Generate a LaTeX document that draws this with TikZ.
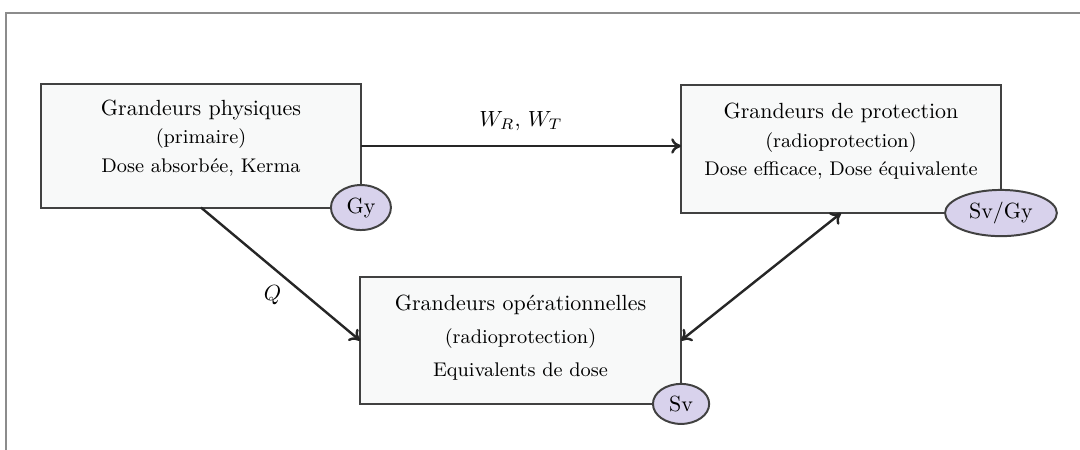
\documentclass[tikz,border=0pt]{standalone}
\usetikzlibrary{shapes.geometric,arrows.meta}
\definecolor{unitfill}{RGB}{216,210,236}
\definecolor{boxfill}{RGB}{248,249,249}
\definecolor{lineclr}{RGB}{65,65,65}
\begin{document}
\begin{tikzpicture}[x=0.016cm,y=-0.016cm,
  box/.style={draw=lineclr,line width=0.9pt,fill=boxfill,rectangle,inner sep=0pt,outer sep=0pt},
  txt/.style={align=center,inner sep=0pt,font=\normalsize},
  unit/.style={draw=lineclr,line width=0.9pt,fill=unitfill,ellipse,inner sep=0pt,font=\normalsize},
  arr/.style={draw=black!85,line width=1.1pt,-{To[length=4.5pt,width=7pt]}},
  darr/.style={draw=black!85,line width=1.1pt,{To[length=4.5pt,width=7pt]}-{To[length=4.5pt,width=7pt]}},
  frame/.style={draw=black!45,line width=0.7pt}]
\useasboundingbox (0,0) rectangle (1080,450);
% frame
\coordinate (f1) at (1080,13);
\coordinate (f2) at (6,13);
\coordinate (f3) at (6,450);
\draw[frame] (f1) -- (f2) -- (f3);
% boxes
\node[box,minimum width=5.12cm,minimum height=1.97cm] (A) at (201,146) {};
\node[box,minimum width=5.12cm,minimum height=2.05cm] (B) at (841,149) {};
\node[box,minimum width=5.14cm,minimum height=2.03cm] (C) at (520.5,340.5) {};
% texts
\node[txt] (At) at ([yshift=0.13cm]A.center) {Grandeurs physiques\\[1pt]{\small (primaire)}\\[1pt]{\small Dose absorbée, Kerma}};
\node[txt] (Bt) at ([yshift=0.12cm]B.center) {Grandeurs de protection\\[1pt]{\small (radioprotection)}\\[1pt]{\small Dose efficace, Dose équivalente}};
\node[txt] (Ct) at ([yshift=0.05cm]C.center) {Grandeurs opérationnelles\\[3pt]{\small (radioprotection)}\\[3pt]{\small Equivalents de dose}};
% units
\node[unit,minimum width=0.96cm,minimum height=0.72cm] (Agy) at (A.south east) {Gy};
\node[unit,minimum width=1.79cm,minimum height=0.74cm] (Bsv) at (B.south east) {Sv/Gy};
\node[unit,minimum width=0.90cm,minimum height=0.64cm] (Csv) at (C.south east) {Sv};
% connectors
\draw[arr] (A.east) -- (B.west |- A.east) node[midway,above=3pt] (wl) {$W_R$, $W_T$};
\draw[arr] (A.south) -- (C.west) node[pos=0.45,below=4.5pt] (ql) {$Q$};
\draw[darr] (C.east) -- (B.south);
\end{tikzpicture}
\end{document}
